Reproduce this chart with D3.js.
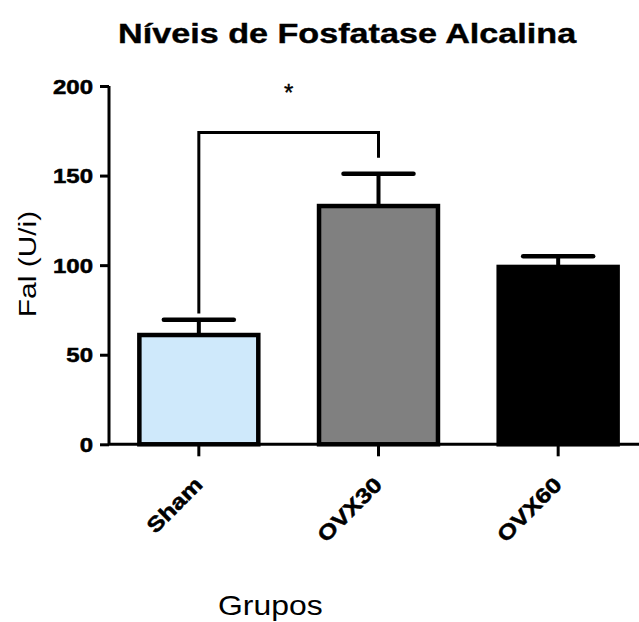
<!DOCTYPE html>
<html>
<head>
<meta charset="utf-8">
<script src="https://cdn.jsdelivr.net/npm/d3@7/dist/d3.min.js"></script>
<style>
  html, body { margin: 0; padding: 0; background: #fff; }
  svg { display: block; }
  text { font-family: "Liberation Sans", Arial, sans-serif; fill: #000; }
</style>
</head>
<body>
<svg id="chart" width="639" height="622"></svg>
<script>
// Alkaline phosphatase levels per group (mean and SEM)
const groups = ["Sham", "OVX30", "OVX60"];
const means = [61, 133, 99];
const sems = [8.5, 18, 6];
const fills = ["#cfe9fb", "#808080", "#000000"];
const yTicks = [0, 50, 100, 150, 200];
// Significance bracket between Sham and OVX30
const sigPair = ["Sham", "OVX30"];
const sigLevels = [73, 174, 160];   // left foot, bracket top, right foot
const sigLabel = "*";

const titleText = "Níveis de Fosfatase Alcalina";
const yLabelText = "Fal (U/i)";
const xLabelText = "Grupos";

const svg = d3.select("#chart");

const x = d3.scaleBand()
  .domain(groups)
  .range([109, 648])
  .paddingInner(0.338)
  .paddingOuter(0.169);

const y = d3.scaleLinear()
  .domain([0, 200])
  .range([444.3, 86]);

// stretch text horizontally along its baseline
function stretch(sel, k) {
  sel.each(function () {
    const w = this.getComputedTextLength();
    d3.select(this).attr("textLength", w * k).attr("lengthAdjust", "spacingAndGlyphs");
  });
}

// Title
svg.append("text")
  .attr("x", 118).attr("y", 43)
  .attr("font-size", 28).attr("font-weight", "bold")
  .attr("stroke", "#000").attr("stroke-width", 0.4)
  .text(titleText)
  .call(stretch, 1.22);

// Bars
const g = svg.append("g");
g.selectAll("rect.bar")
  .data(groups)
  .join("rect")
  .attr("class", "bar")
  .attr("x", d => x(d))
  .attr("width", x.bandwidth())
  .attr("y", (d, i) => y(means[i]))
  .attr("height", (d, i) => y(0) - y(means[i]))
  .attr("fill", (d, i) => fills[i])
  .attr("stroke", "#000")
  .attr("stroke-width", 4.5);

// Error bars (upper half)
const capHalf = 35;
g.selectAll("line.stem")
  .data(groups)
  .join("line")
  .attr("x1", d => x(d) + x.bandwidth() / 2)
  .attr("x2", d => x(d) + x.bandwidth() / 2)
  .attr("y1", (d, i) => y(means[i]))
  .attr("y2", (d, i) => y(means[i] + sems[i]))
  .attr("stroke", "#000").attr("stroke-width", 4);
g.selectAll("line.cap")
  .data(groups)
  .join("line")
  .attr("x1", d => x(d) + x.bandwidth() / 2 - capHalf)
  .attr("x2", d => x(d) + x.bandwidth() / 2 + capHalf)
  .attr("y1", (d, i) => y(means[i] + sems[i]))
  .attr("y2", (d, i) => y(means[i] + sems[i]))
  .attr("stroke", "#000").attr("stroke-width", 4.5)
  .attr("stroke-linecap", "round");

// Y axis
const yAxis = svg.append("g")
  .attr("transform", "translate(109,0)")
  .call(d3.axisLeft(y).tickValues(yTicks).tickSize(9).tickPadding(0).tickFormat(d3.format("d")));
yAxis.select(".domain").attr("stroke", "#000").attr("stroke-width", 3)
  .attr("d", `M0,${y(200)}V${y(0)}`);
yAxis.selectAll(".tick line").attr("stroke", "#000").attr("stroke-width", 3);
yAxis.selectAll(".tick text")
  .attr("dy", "0.36em")
  .attr("font-size", 20).attr("font-weight", "bold")
  .attr("stroke", "#000").attr("stroke-width", 0.5)
  .style("font-family", '"Liberation Sans", Arial, sans-serif')
  .call(stretch, 1.2)
  .each(function () {
    // keep the right edge of each widened label fixed
    const w = +d3.select(this).attr("textLength");
    d3.select(this).attr("text-anchor", "start").attr("x", -16 - w);
  });

// X axis
const xAxis = svg.append("g")
  .attr("transform", `translate(0,${y(0)})`)
  .call(d3.axisBottom(x).tickSize(12).tickFormat(""));
xAxis.select(".domain").attr("stroke", "#000").attr("stroke-width", 3)
  .attr("d", "M109,0H639");
xAxis.selectAll(".tick line").attr("stroke", "#000").attr("stroke-width", 3);

// Rotated category labels
svg.selectAll("text.cat")
  .data(groups)
  .join("text")
  .attr("class", "cat")
  .attr("font-size", 21).attr("font-weight", "bold")
  .attr("stroke", "#000").attr("stroke-width", 0.5)
  .attr("text-anchor", "start")
  .text(d => d)
  .each(function (d) {
    const w = this.getComputedTextLength() * 1.2;
    d3.select(this)
      .attr("textLength", w).attr("lengthAdjust", "spacingAndGlyphs")
      .attr("transform", `translate(${x(d) + x.bandwidth() / 2 + 5},486) rotate(-45)`)
      .attr("x", -w).attr("y", 0);
  });

// Axis titles
svg.append("text")
  .attr("transform", "translate(36,264) rotate(-90)")
  .attr("text-anchor", "middle")
  .attr("font-size", 23)
  .text(yLabelText)
  .call(stretch, 1.3);

svg.append("text")
  .attr("x", 218).attr("y", 615)
  .attr("font-size", 28)
  .text(xLabelText)
  .call(stretch, 1.14);

// Significance bracket
const cx = d => x(d) + x.bandwidth() / 2;
svg.append("path")
  .attr("d", `M${cx(sigPair[0])},${y(sigLevels[0])}V${y(sigLevels[1])}H${cx(sigPair[1])}V${y(sigLevels[2])}`)
  .attr("fill", "none").attr("stroke", "#000").attr("stroke-width", 3);
svg.append("text")
  .attr("x", (cx(sigPair[0]) + cx(sigPair[1])) / 2)
  .attr("y", 101)
  .attr("text-anchor", "middle")
  .attr("font-size", 24)
  .attr("stroke", "#000").attr("stroke-width", 0.4)
  .text(sigLabel);
</script>
</body>
</html>
